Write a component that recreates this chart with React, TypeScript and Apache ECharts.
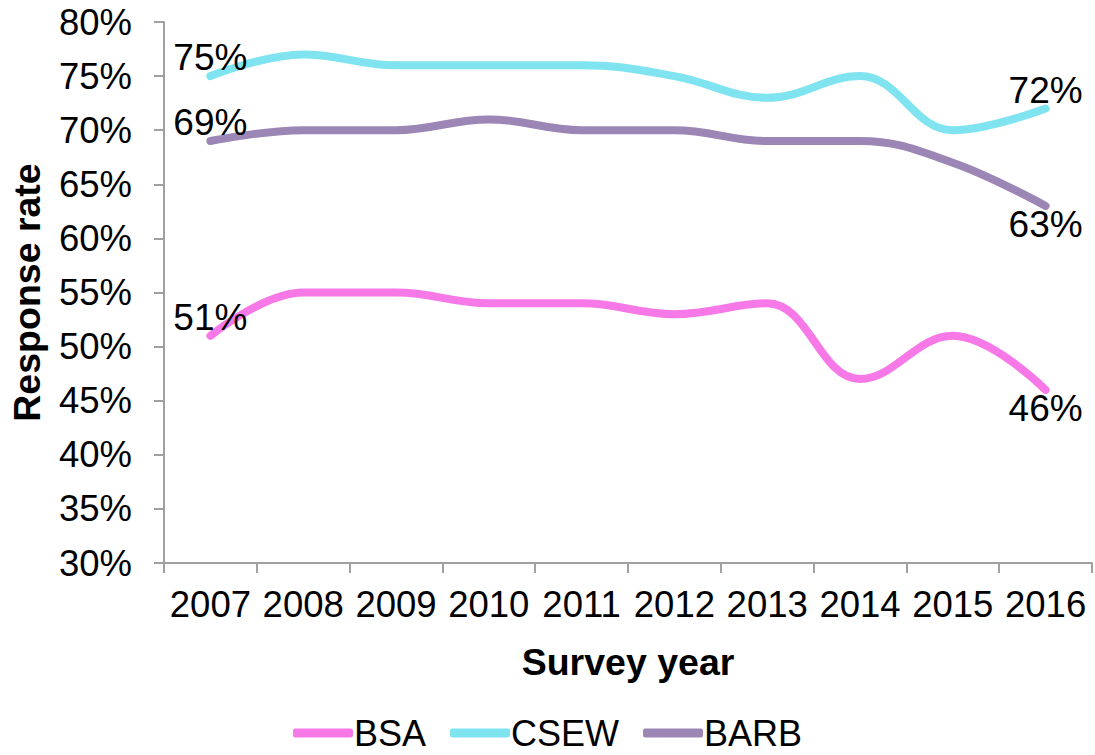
import React, { useEffect, useRef } from "react";
import * as echarts from "echarts";

const years = ["2007", "2008", "2009", "2010", "2011", "2012", "2013", "2014", "2015", "2016"];
const bsa = [51, 55, 55, 54, 54, 53, 54, 47, 51, 46];
const csew = [75, 77, 76, 76, 76, 75, 73, 75, 70, 72];
const barb = [69, 70, 70, 71, 70, 70, 69, 69, 67, 63];

const FONT = "Liberation Sans, Arial, sans-serif";

function withEndLabels(values: number[], firstPos: string, lastPos: string, firstOffset: number[], lastOffset: number[]) {
  return values.map((v, i) => {
    if (i === 0) {
      return { value: v, label: { show: true, position: firstPos, offset: firstOffset } };
    }
    if (i === values.length - 1) {
      return { value: v, label: { show: true, position: lastPos, offset: lastOffset } };
    }
    return { value: v };
  });
}

export default function App() {
  const ref = useRef<HTMLDivElement>(null);
  useEffect(() => {
    document.body.style.margin = "0";
    const chart = echarts.init(ref.current!, null, { renderer: "svg" });
    const labelStyle = {
      show: false,
      color: "#000",
      fontSize: 37,
      fontFamily: FONT,
      formatter: "{c}%",
      distance: 0,
    };
    const mkSeries = (name: string, color: string, data: any[]) => ({
      name,
      type: "line",
      smooth: 0.4,
      symbol: "circle",
      symbolSize: 0,
      showSymbol: true,
      data,
      lineStyle: { color, width: 8, cap: "round", join: "round" },
      itemStyle: { color },
      label: labelStyle,
      labelLayout: { hideOverlap: false },
      z: 2,
    });
    chart.setOption({
      animation: false,
      backgroundColor: "#fff",
      textStyle: { fontFamily: FONT },
      grid: { left: 163, right: 3, top: 22, bottom: 192, containLabel: false },
      legend: {
        left: "center",
        top: 710,
        icon: "roundRect",
        itemWidth: 60,
        itemHeight: 9,
        itemGap: 24,
        textStyle: { fontSize: 36, color: "#000", fontFamily: FONT, padding: [0, 0, 0, -4] },
        data: ["BSA", "CSEW", "BARB"],
      },
      xAxis: {
        type: "category",
        data: years,
        boundaryGap: true,
        name: "Survey year",
        nameLocation: "middle",
        nameGap: 80,
        nameTextStyle: { fontSize: 37.5, fontWeight: "bold", color: "#000", fontFamily: FONT },
        axisLine: { lineStyle: { color: "#a0a0a0", width: 2 } },
        axisTick: { show: true, length: 10, lineStyle: { color: "#a0a0a0", width: 2 } },
        axisLabel: { fontSize: 36.5, color: "#000", margin: 23, interval: 0, fontFamily: FONT },
        splitLine: { show: false },
      },
      yAxis: {
        type: "value",
        min: 30,
        max: 80,
        interval: 5,
        name: "Response rate",
        nameLocation: "middle",
        nameGap: 118,
        nameTextStyle: { fontSize: 37.5, fontWeight: "bold", color: "#000", fontFamily: FONT },
        axisLine: { show: true, lineStyle: { color: "#a0a0a0", width: 2 } },
        axisTick: { show: true, length: 10, lineStyle: { color: "#a0a0a0", width: 2 } },
        axisLabel: { fontSize: 36.5, color: "#000", margin: 32, formatter: "{value}%", fontFamily: FONT },
        splitLine: { show: false },
      },
      series: [
        mkSeries("BSA", "#f779e8", withEndLabels(bsa, "top", "bottom", [12, 0], [18, 6])),
        mkSeries("CSEW", "#7fe4ef", withEndLabels(csew, "top", "top", [12, 2], [14, 4])),
        mkSeries("BARB", "#9c86b5", withEndLabels(barb, "top", "bottom", [12, 18], [18, 2])),
      ],
    });
    return () => chart.dispose();
  }, []);
  return <div ref={ref} style={{ width: 1095, height: 755 }} />;
}
